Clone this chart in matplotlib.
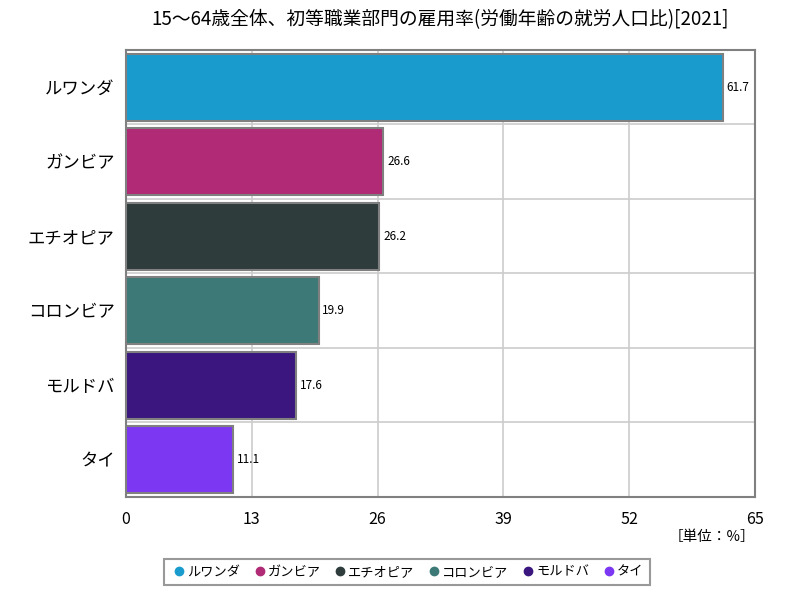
import matplotlib
matplotlib.use("Agg")
import matplotlib.pyplot as plt
from matplotlib.lines import Line2D

plt.rcParams['font.family'] = ['Noto Sans CJK JP', 'DejaVu Sans']

countries = ["ルワンダ", "ガンビア", "エチオピア", "コロンビア", "モルドバ", "タイ"]
values = [61.7, 26.6, 26.2, 19.9, 17.6, 11.1]
colors = ["#1a9bcd", "#b02a75", "#2e3c3b", "#3d7a77", "#3a167e", "#7b37f2"]
xticks = [0, 13, 26, 39, 52, 65]
title = "15～64歳全体、初等職業部門の雇用率(労働年齢の就労人口比)[2021]"

fig = plt.figure(figsize=(8, 6), dpi=100)
ax = fig.add_axes([0.1575, 0.172, 0.786, 0.745])

n = len(countries)
ypos = list(range(n))
ax.barh(ypos, values, height=0.9, color=colors, edgecolor="#808080", linewidth=1.5, zorder=3)
for y, v in zip(ypos, values):
    ax.text(v + 0.4, y, f"{v:.1f}", va="center", ha="left", fontsize=8.5, zorder=4)

ax.set_xlim(0, 65)
ax.set_ylim(n - 0.5, -0.5)
ax.set_xticks(xticks)
ax.set_xticklabels([str(t) for t in xticks], fontsize=11.5)
ax.set_yticks(ypos)
ax.set_yticklabels(countries, fontsize=12.5)
ax.tick_params(axis="both", length=0, pad=8)
ax.tick_params(axis="x", pad=10)

ax.set_yticks([i + 0.5 for i in range(n - 1)], minor=True)
ax.grid(axis="x", color="#cccccc", linewidth=1.2, zorder=0)
ax.grid(axis="y", which="minor", color="#cccccc", linewidth=1.2, zorder=0)
ax.tick_params(axis="y", which="minor", length=0)
for s in ax.spines.values():
    s.set_color("#808080")
    s.set_linewidth(1.5)

fig.text(0.55, 0.968, title, ha="center", va="center", fontsize=13.5)
fig.text(0.944, 0.105, "［単位：%］", ha="right", va="center", fontsize=10.5)

handles = [Line2D([0], [0], marker="o", color="none", markerfacecolor=c, markeredgecolor=c,
                  markersize=6) for c in colors]
leg = fig.legend(handles, countries, loc="center", bbox_to_anchor=(0.509, 0.046), ncol=n,
                 fontsize=9.5, frameon=True, fancybox=False, handletextpad=0.0,
                 columnspacing=0.9, handlelength=1.2, borderpad=0.5)
leg.get_frame().set_edgecolor("#808080")
leg.get_frame().set_linewidth(1.5)

fig.savefig("out.png", dpi=100)
